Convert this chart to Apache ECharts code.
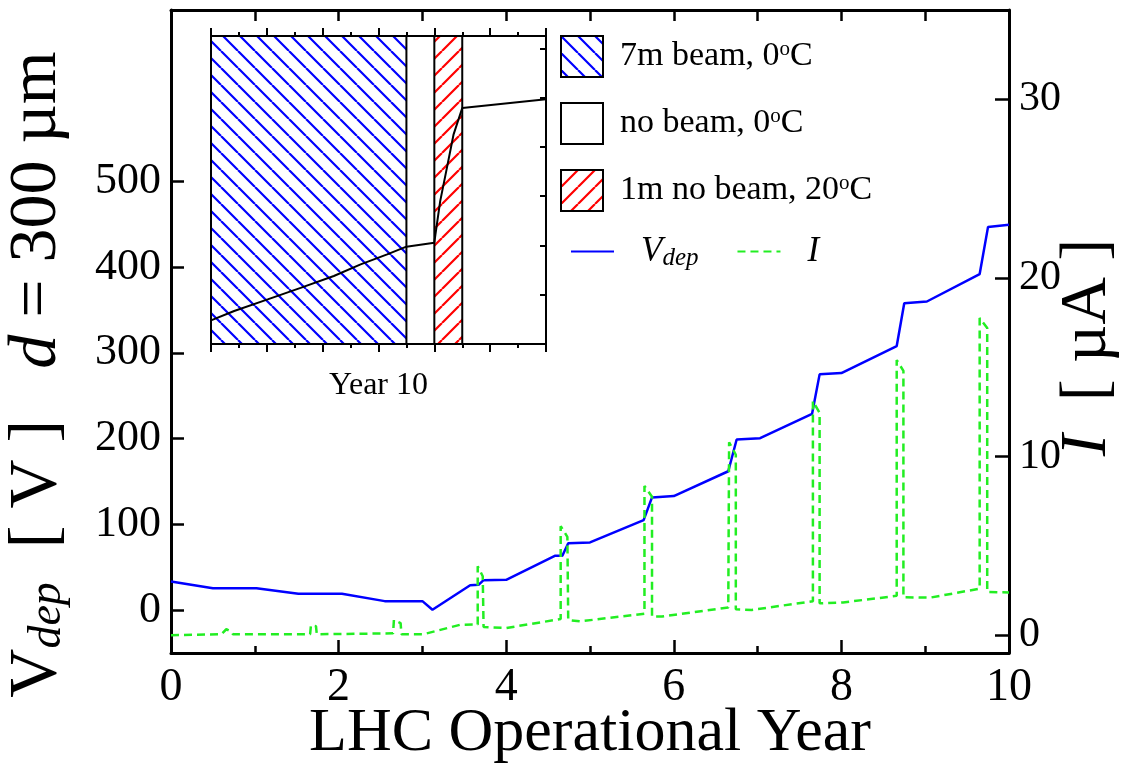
<!DOCTYPE html>
<html>
<head>
<meta charset="utf-8">
<script src="https://cdn.jsdelivr.net/npm/echarts@6/dist/echarts.min.js"></script>
<style>
  html, body { margin: 0; background: #fff; }
  #chart { width: 1122px; height: 777px; }
</style>
</head>
<body>
<div id="chart"></div>
<script>
// depletion voltage, main plot (year, volts)
const vdepYear = [0, 0.5, 1.02, 1.52, 2.04, 2.55, 3.0, 3.12, 3.57, 3.67, 3.73, 4.0, 4.58, 4.67, 4.74, 5.0,
  5.64, 5.74, 6.0, 6.65, 6.75, 7.03, 7.65, 7.74, 8.0, 8.66, 8.75, 9.02, 9.65, 9.75, 10.0];
const vdepVolt = [33.5, 25.6, 25.6, 19, 19, 10.5, 10.5, 0.5, 29, 29.5, 35, 35.4, 63.4, 63.4, 78, 79,
  105, 131.5, 133, 162, 199, 200.5, 229, 275, 276.5, 308, 358, 360, 392, 447, 449.6];

// leakage current (year, microamps)
const curYear = [0, 0.6, 0.66, 0.72, 0.74, 1.66, 1.67, 1.73, 1.74, 2.65, 2.66, 2.74, 2.75, 3.01, 3.17, 3.45,
  3.66, 3.66, 3.72, 3.73, 4.0, 4.65, 4.65, 4.73, 4.74, 4.88, 5.65, 5.65, 5.74, 5.74, 5.86,
  6.65, 6.66, 6.74, 6.74, 6.93, 7.66, 7.66, 7.74, 7.74, 8.02, 8.66, 8.66, 8.74, 8.74, 9.06,
  9.65, 9.65, 9.74, 9.74, 10.0];
const curAmp = [0, 0.05, 0.33, 0.2, 0.05, 0.05, 0.55, 0.5, 0.05, 0.1, 0.85, 0.67, 0.05, 0.05, 0.24, 0.58,
  0.6, 3.85, 3.3, 0.45, 0.4, 0.9, 6.1, 5.5, 0.85, 0.77, 1.2, 8.35, 7.75, 1.04, 1.04,
  1.55, 10.8, 10.1, 1.45, 1.41, 1.9, 13.1, 12.45, 1.78, 1.83, 2.2, 15.4, 14.8, 2.12, 2.1,
  2.6, 17.75, 17.2, 2.42, 2.39];

const leftTicks = [0, 100, 200, 300, 400, 500];
const rightTicks = [0, 10, 20, 30];

// inset: year 10 in months
const insetMonth = [0, 0.83, 2.03, 3.21, 4.4, 5.36, 6.31, 7.0, 8.0, 8.04, 8.21, 8.45, 8.69, 9.0, 12.0];
const insetVolt = [349.6, 353.4, 358.1, 362.8, 367.6, 372.3, 376.4, 379.5, 381.1, 384.5, 398, 411.5, 425.1, 435.8, 439.3];
const regionFrom = [0, 7, 8, 9];
const regionTo = [7, 8, 9, 12];
const regionKind = ['beam', 'cold', 'warm', 'cold'];

const FONT = '"Liberation Serif", "Times New Roman", serif';
const insetYMin = 340, insetYMax = 465;

function hatch(color, back) {
  const s = 17;
  const c = document.createElement('canvas');
  c.width = c.height = s;
  const g = c.getContext('2d');
  g.fillStyle = '#fff';
  g.fillRect(0, 0, s, s);
  g.strokeStyle = color;
  g.lineWidth = 2.2;
  g.beginPath();
  for (const o of [-s, 0, s]) {
    if (back) { g.moveTo(o, 0); g.lineTo(o + s, s); }
    else { g.moveTo(o, s); g.lineTo(o + s, 0); }
  }
  g.stroke();
  return { image: c, repeat: 'repeat' };
}
const bluePat = hatch('#0000ff', true);
const redPat = hatch('#ff0000', false);

const kinds = {
  beam: { name: '7m beam, 0°C', fill: bluePat, stroke: '#000' },
  cold: { name: 'no beam, 0°C', fill: null, stroke: null },
  warm: { name: '1m no beam, 20°C', fill: redPat, stroke: '#000' }
};
const legendText = {
  '7m beam, 0°C': '7m beam, 0{sup|o}C',
  'no beam, 0°C': 'no beam, 0{sup|o}C',
  '1m no beam, 20°C': '1m no beam, 20{sup|o}C',
  'Vdep': '{it|V}{sub|dep}',
  'I': '{it|I}'
};

function regionSeries(key) {
  const k = kinds[key];
  const data = [];
  regionKind.forEach((r, i) => { if (r === key) data.push([regionFrom[i], regionTo[i]]); });
  return {
    name: k.name,
    type: 'custom',
    xAxisIndex: 2,
    yAxisIndex: 2,
    encode: { x: [0, 1] },
    data: data,
    z: 3,
    renderItem: function (params, api) {
      const a = api.coord([api.value(0), insetYMax]);
      const b = api.coord([api.value(1), insetYMin]);
      return {
        type: 'rect',
        shape: { x: a[0], y: a[1], width: b[0] - a[0], height: b[1] - a[1] },
        style: { fill: k.fill || 'rgba(0,0,0,0)', stroke: k.stroke, lineWidth: 2 }
      };
    }
  };
}

const richText = {
  sup: { fontFamily: FONT, fontSize: 21, verticalAlign: 'top', padding: [0, 0, 14, 0], color: '#000' },
  sub: { fontFamily: FONT, fontSize: 25, fontStyle: 'italic', padding: [14, 0, 0, 0], color: '#000' },
  it: { fontFamily: FONT, fontSize: 35, fontStyle: 'italic', color: '#000' }
};

const chart = echarts.init(document.getElementById('chart'));
const axisLine = { show: true, onZero: false, lineStyle: { color: '#000', width: 3 } };
const insetLine = { show: true, onZero: false, lineStyle: { color: '#000', width: 2 } };

chart.setOption({
  backgroundColor: '#fff',
  animation: false,
  textStyle: { fontFamily: FONT },
  grid: [
    { left: 171, top: 10, width: 838, height: 643, outerBoundsMode: 'none' },
    { left: 211, top: 36, width: 335, height: 308, show: true, backgroundColor: '#fff', borderWidth: 0, outerBoundsMode: 'none' }
  ],
  legend: [
    {
      orient: 'vertical', left: 560, top: 35, padding: 0, itemWidth: 42, itemHeight: 41, itemGap: 24,
      selectedMode: false,
      data: [
        { name: '7m beam, 0°C', icon: 'rect', itemStyle: { color: bluePat, borderColor: '#000', borderWidth: 2 } },
        { name: 'no beam, 0°C', icon: 'rect', itemStyle: { color: '#fff', borderColor: '#000', borderWidth: 2 } },
        { name: '1m no beam, 20°C', icon: 'rect', itemStyle: { color: redPat, borderColor: '#000', borderWidth: 2 } }
      ],
      formatter: n => legendText[n],
      textStyle: { fontFamily: FONT, fontSize: 34, color: '#000', padding: [0, 0, 0, 12], rich: richText }
    },
    {
      orient: 'horizontal', left: 570, top: 234, padding: 0, itemWidth: 43, itemHeight: 20, itemGap: 38,
      selectedMode: false,
      itemStyle: { opacity: 0 },
      data: ['Vdep', 'I'],
      formatter: n => legendText[n],
      textStyle: { fontFamily: FONT, fontSize: 34, color: '#000', padding: [0, 0, 0, 22], rich: richText }
    }
  ],
  xAxis: [
    {
      type: 'value', gridIndex: 0, min: 0, max: 10, interval: 2, position: 'bottom',
      axisLine: axisLine,
      axisTick: { inside: true, length: 13, lineStyle: { width: 2.5, color: '#000' } },
      minorTick: { show: true, splitNumber: 2, length: 7, lineStyle: { width: 2.5, color: '#000' } },
      axisLabel: { fontFamily: FONT, fontSize: 46, color: '#000', margin: 12 },
      splitLine: { show: false },
      name: 'LHC Operational Year', nameLocation: 'middle', nameGap: 50, nameMoveOverlap: false,
      nameTextStyle: { fontFamily: FONT, fontSize: 62, color: '#000' }
    },
    {
      type: 'value', gridIndex: 0, min: 0, max: 10, interval: 1, position: 'top',
      axisLine: axisLine,
      axisTick: { inside: true, length: 11, lineStyle: { width: 2.5, color: '#000' } },
      axisLabel: { show: false }, splitLine: { show: false }
    },
    {
      type: 'value', gridIndex: 1, min: 0, max: 12, interval: 2, position: 'bottom',
      axisLine: insetLine,
      axisTick: { inside: false, length: 8, lineStyle: { width: 2, color: '#000' } },
      minorTick: { show: true, splitNumber: 2, length: 4, lineStyle: { width: 2, color: '#000' } },
      axisLabel: { show: false }, splitLine: { show: false },
      name: 'Year 10', nameLocation: 'middle', nameGap: 26, nameMoveOverlap: false,
      nameTextStyle: { fontFamily: FONT, fontSize: 32, color: '#000' }
    },
    {
      type: 'value', gridIndex: 1, min: 0, max: 12, interval: 2, position: 'top',
      axisLine: insetLine,
      axisTick: { inside: false, length: 8, lineStyle: { width: 2, color: '#000' } },
      minorTick: { show: true, splitNumber: 2, length: 4, lineStyle: { width: 2, color: '#000' } },
      axisLabel: { show: false }, splitLine: { show: false }
    }
  ],
  yAxis: [
    {
      type: 'value', gridIndex: 0, min: -50, max: 700, position: 'left',
      axisLine: axisLine,
      axisTick: { inside: true, length: 13, customValues: leftTicks, lineStyle: { width: 2.5, color: '#000' } },
      axisLabel: { fontFamily: FONT, fontSize: 44, color: '#000', margin: 10, customValues: leftTicks },
      splitLine: { show: false },
      name: '{v|V}{s|dep}{v|  [ V ]   }{d|d}{v| = 300 µm}',
      nameLocation: 'middle', nameRotate: 90, nameGap: 100, nameMoveOverlap: false,
      nameTextStyle: {
        padding: [0, 86, 0, 0],
        rich: {
          v: { fontFamily: FONT, fontSize: 68, color: '#000' },
          s: { fontFamily: FONT, fontSize: 46, fontStyle: 'italic', color: '#000', padding: [22, 0, 0, 0] },
          d: { fontFamily: FONT, fontSize: 68, fontStyle: 'italic', color: '#000' }
        }
      }
    },
    {
      type: 'value', gridIndex: 0, min: -1, max: 35, position: 'right',
      axisLine: axisLine,
      axisTick: { inside: true, length: 14, customValues: rightTicks, lineStyle: { width: 2.5, color: '#000' } },
      axisLabel: { fontFamily: FONT, fontSize: 42, color: '#000', margin: 10, customValues: rightTicks },
      splitLine: { show: false },
      name: '{i|I}{v|  [ µA ]}',
      nameLocation: 'middle', nameRotate: 90, nameGap: 46, nameMoveOverlap: false,
      nameTextStyle: {
        padding: [0, 32, 0, 0],
        rich: {
          i: { fontFamily: FONT, fontSize: 66, fontStyle: 'italic', color: '#000' },
          v: { fontFamily: FONT, fontSize: 66, color: '#000' }
        }
      }
    },
    {
      type: 'value', gridIndex: 1, min: insetYMin, max: insetYMax, interval: 20, position: 'left',
      axisLine: insetLine,
      axisTick: { inside: true, length: 6, lineStyle: { width: 2, color: '#000' } },
      axisLabel: { show: false }, splitLine: { show: false }
    },
    {
      type: 'value', gridIndex: 1, min: insetYMin, max: insetYMax, interval: 20, position: 'right',
      axisLine: insetLine,
      axisTick: { inside: true, length: 6, lineStyle: { width: 2, color: '#000' } },
      axisLabel: { show: false }, splitLine: { show: false }
    }
  ],
  series: [
    regionSeries('beam'),
    regionSeries('cold'),
    regionSeries('warm'),
    {
      name: 'inset', type: 'line', xAxisIndex: 2, yAxisIndex: 2, symbol: 'none', z: 4,
      data: insetMonth.map((m, i) => [m, insetVolt[i]]),
      lineStyle: { color: '#000', width: 2 }
    },
    {
      name: 'Vdep', type: 'line', xAxisIndex: 0, yAxisIndex: 0, symbol: 'none', color: '#0000ff',
      data: vdepYear.map((y, i) => [y, vdepVolt[i]]),
      lineStyle: { color: '#0000ff', width: 2.5 }
    },
    {
      name: 'I', type: 'line', xAxisIndex: 0, yAxisIndex: 1, symbol: 'none', color: '#22ee22',
      data: curYear.map((y, i) => [y, curAmp[i]]),
      lineStyle: { color: '#22ee22', width: 2.5, type: [8, 5] }
    }
  ]
});
</script>
</body>
</html>
